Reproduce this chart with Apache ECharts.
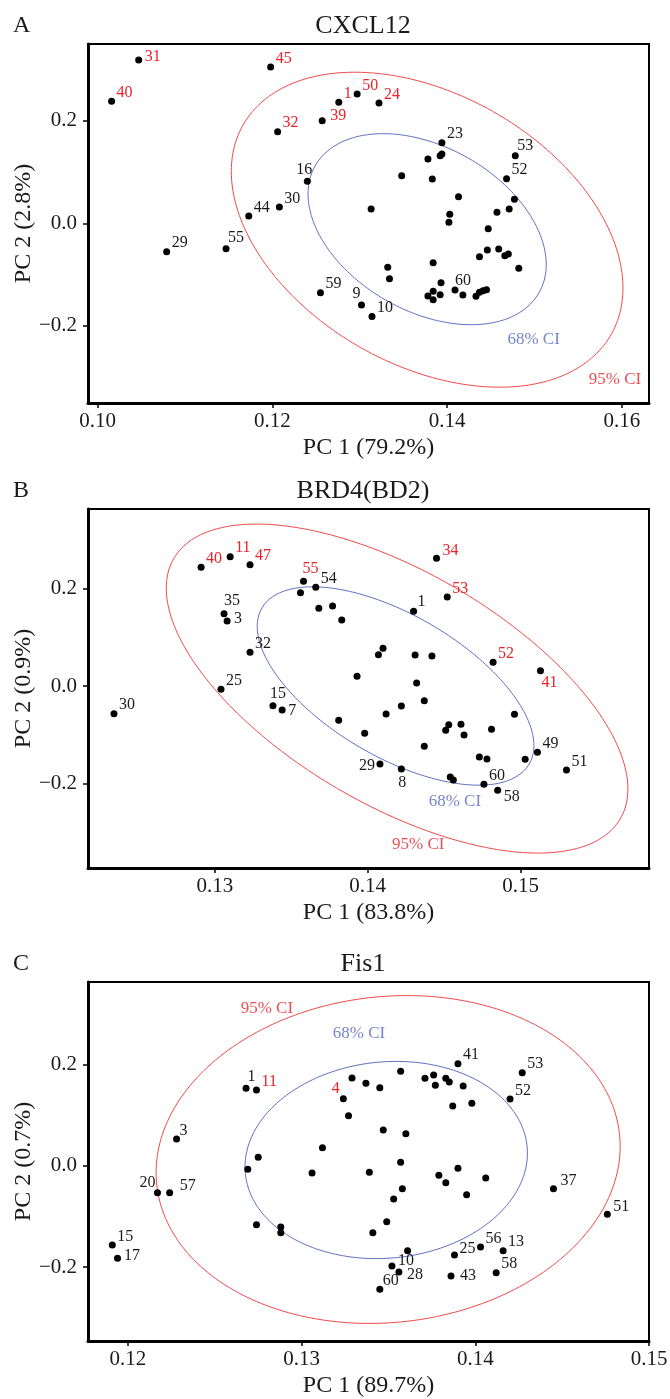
<!DOCTYPE html>
<html>
<head>
<meta charset="utf-8">
<script src="https://cdn.jsdelivr.net/npm/echarts@6.0.0/dist/echarts.min.js"></script>
<style>
html,body{margin:0;padding:0;background:#fff;}
#chart{width:670px;height:1399px;}
</style>
</head>
<body>
<div id="chart"></div>
<script>
// ---------------- DATA ----------------
const panelLetters = ['A', 'B', 'C'];
const panelTitles = ['CXCL12', 'BRD4(BD2)', 'Fis1'];
const xAxisNames = ['PC 1 (79.2%)', 'PC 1 (83.8%)', 'PC 1 (89.7%)'];
const yAxisNames = ['PC 2 (2.8%)', 'PC 2 (0.9%)', 'PC 2 (0.7%)'];

const xTicksA = [0.10, 0.12, 0.14, 0.16];
const xTicksB = [0.13, 0.14, 0.15];
const xTicksC = [0.12, 0.13, 0.14, 0.15];
const yTicks = [-0.2, 0.0, 0.2];

const xRangeA = [0.0989, 0.1631], yRangeA = [-0.3503, 0.3495];
const xRangeB = [0.1217, 0.1584], yRangeB = [-0.374, 0.3637];
const xRangeC = [0.1177, 0.1500], yRangeC = [-0.346, 0.3625];

// Panel A (CXCL12)
const labelsA = ['31','40','45','32','39','1','50','24','16','44','30','29','55','59','9','10','60','23','53','52',
  '','','','','','','','','','','','','','','','','','','','','','','','','','','','','','','',''];
const pc1A = [0.1047,0.1016,0.1198,0.1206,0.1257,0.1276,0.1297,0.1322,0.1240,0.1173,0.1208,0.1079,0.1147,0.1255,0.1302,0.1314,0.1409,0.1394,0.1478,0.1468,
  0.1392,0.1394,0.1378,0.1348,0.1383,0.1477,0.1413,0.1313,0.1457,0.1471,0.1403,0.1402,0.1447,0.1446,0.1459,0.1437,0.1466,0.1470,0.1482,0.1384,0.1332,0.1334,0.1393,0.1384,0.1392,0.1378,0.1384,0.1418,0.1433,0.1437,0.1441,0.1445];
const pc2A = [0.3183,0.2378,0.3047,0.1786,0.2000,0.2359,0.2520,0.2345,0.0819,0.0142,0.0318,-0.0554,-0.0495,-0.1353,-0.1593,-0.1817,-0.1300,0.1571,0.1318,0.0869,
  0.1318,0.1351,0.1253,0.0928,0.0864,0.0468,0.0519,0.0279,0.0214,0.0279,0.0175,0.0020,-0.0105,-0.0520,-0.0501,-0.0651,-0.0632,-0.0598,-0.0877,-0.0768,-0.0858,-0.1080,-0.1158,-0.1326,-0.1392,-0.1417,-0.1489,-0.1398,-0.1423,-0.1345,-0.1314,-0.1294];
const redA = ['31','40','45','32','39','1','50','24'];
const ci68A = [0.13771, -0.0115, 0.01363, 0.1862, -0.37];   // cx, cy, rx, ry, rho
const ci95A = [0.13771, -0.0125, 0.02241, 0.3070, -0.37];
const ciTextA = [[0.1499, -0.2275], [0.1592, -0.3055]];

// Panel B (BRD4(BD2))
const labelsB = ['40','11','47','55','34','53','52','41','54','35','3','32','25','1','15','7','49','29','8','60','58','51','30',
  '','','','','','','','','','','','','','','','','','','','','','','','','',''];
const pc1B = [0.1291,0.1310,0.1323,0.1358,0.1445,0.1452,0.1482,0.1513,0.1366,0.1306,0.1308,0.1323,0.1304,0.1430,0.1338,0.1344,0.1511,0.1408,0.1422,0.1476,0.1485,0.1530,0.1234,
  0.1356,0.1368,0.1377,0.1383,0.1410,0.1407,0.1431,0.1442,0.1393,0.1432,0.1422,0.1437,0.1412,0.1496,0.1381,0.1453,0.1451,0.1461,0.1463,0.1481,0.1398,0.1437,0.1503,0.1473,0.1478,0.1454,0.1456];
const pc2B = [0.2439,0.2657,0.2492,0.2153,0.2624,0.1829,0.0487,0.0314,0.2028,0.1486,0.1336,0.0692,-0.0068,0.1535,-0.0405,-0.0493,-0.1362,-0.1603,-0.1705,-0.2020,-0.2143,-0.1726,-0.0569,
  0.1917,0.1596,0.1644,0.1356,0.0775,0.0643,0.0637,0.0616,0.0199,0.0062,-0.0411,-0.0302,-0.0575,-0.0581,-0.0705,-0.0795,-0.0910,-0.0787,-0.1007,-0.0890,-0.0972,-0.1239,-0.1506,-0.1459,-0.1500,-0.1870,-0.1931];
const redB = ['40','11','47','55','34','53','52','41'];
const ci68B = [0.14182, 0.0000, 0.00905, 0.2038, -0.60];
const ci95B = [0.14192, -0.0053, 0.01510, 0.3380, -0.61];
const ciTextB = [[0.1457, -0.2377], [0.1433, -0.3267]];

// Panel C (Fis1)
const labelsC = ['11','4','1','3','41','53','52','37','51','20','57','15','17','25','56','13','10','28','60','43','58',
  '','','','','','','','','','','','','','','','','','','','','','','','','','','','','','','','',''];
const pc1C = [0.1274,0.1324,0.1268,0.1228,0.1390,0.1427,0.1420,0.1445,0.1476,0.1217,0.1224,0.1191,0.1194,0.1388,0.1403,0.1416,0.1352,0.1356,0.1345,0.1386,0.1412,
  0.1329,0.1337,0.1345,0.1357,0.1371,0.1376,0.1377,0.1383,0.1385,0.1393,0.1387,0.1398,0.1327,0.1347,0.1360,0.1312,0.1275,0.1269,0.1306,0.1339,0.1357,0.1390,0.1379,0.1383,0.1406,0.1358,0.1353,0.1395,0.1274,0.1288,0.1288,0.1349,0.1341,0.1361];
const pc2C = [0.1494,0.1322,0.1528,0.0527,0.2013,0.1835,0.1316,-0.0454,-0.0959,-0.0533,-0.0533,-0.1565,-0.1828,-0.1762,-0.1604,-0.1678,-0.1979,-0.2098,-0.2439,-0.2177,-0.2112,
  0.1731,0.1626,0.1539,0.1863,0.1725,0.1790,0.1587,0.1725,0.1652,0.1573,0.1178,0.1231,0.0987,0.0705,0.0632,0.0355,0.0166,-0.0071,-0.0144,-0.0130,0.0067,-0.0051,-0.0189,-0.0336,-0.0243,-0.0454,-0.0657,-0.0572,-0.1164,-0.1210,-0.1322,-0.1105,-0.1322,-0.1678];
const redC = ['11','4'];
const ci68C = [0.13487, 0.0112, 0.00813, 0.1946, 0.07];
const ci95C = [0.13498, 0.0122, 0.01336, 0.3235, 0.08];
const ciTextC = [[0.1333, 0.2613], [0.1280, 0.3106]];

// ---------------- STYLE ----------------
const FONT = '"Liberation Serif", "Times New Roman", serif';
const RED = '#ea2229';
const RED_LINE = '#f04a4a';
const BLUE = '#5468bd';
const BLUE_LINE = '#5c70c0';
const gridTops = [44, 509, 982];
const GRID_H = 359, GRID_L = 88, GRID_R = 21;
const DOT = 7;

// label placement: [align, dx, dy] relative to dot centre
const defaultPlace = ['left', 5, -8.5];
const placeA = {'31':['left',6,-3],'39':['left',8,-5],'16':['right',5,-11],'9':['right',-1,-11],'55':['left',2,-11],'53':['left',2,-10],'60':['left',0,-9]};
const placeB = {'55':['left',-1,-12],'35':['left',0,-13],'3':['left',7,-2],'41':['left',1,12],'15':['center',5,-12],'7':['left',6,1],'29':['right',-5,2],'8':['center',1,13.5],'58':['left',6,7],'1':['left',4,-9],'34':['left',6,-7.5]};
const placeC = {'1':['left',1.5,-11],'4':['right',-3.5,-10],'20':['right',-2,-10],'57':['left',10,-7],'17':['left',6.5,-2.5],'25':['left',5,-6],'10':['left',6,-5],'28':['left',8,3],'43':['left',9,0],'3':['left',3,-8],'60':['left',3,-8.5],'37':['left',7,-7.5],'51':['left',6,-7.5]};

function ellipse(p) {
  const [cx, cy, rx, ry, rho] = p;
  const phi = Math.acos(rho);
  const pts = [];
  const N = 240;
  for (let i = 0; i <= N; i++) {
    const t = 2 * Math.PI * i / N;
    pts.push([cx + rx * Math.cos(t), cy + ry * Math.cos(t + phi)]);
  }
  return pts;
}

function pointData(labels, xs, ys, reds, place) {
  return xs.map((x, i) => {
    const id = labels[i];
    const item = { value: [x, ys[i]] };
    if (id) {
      const pl = place[id] || defaultPlace;
      item.label = {
        show: true, formatter: id,
        position: [DOT / 2 + pl[1], DOT / 2 + pl[2]],
        align: pl[0], verticalAlign: 'middle',
        color: reds.includes(id) ? RED : '#1a1a1a',
        fontFamily: FONT, fontSize: 16
      };
    }
    return item;
  });
}

const panels = [
  {labels: labelsA, xs: pc1A, ys: pc2A, reds: redA, place: placeA, c68: ci68A, c95: ci95A, ct: ciTextA, xr: xRangeA, yr: yRangeA, xt: xTicksA},
  {labels: labelsB, xs: pc1B, ys: pc2B, reds: redB, place: placeB, c68: ci68B, c95: ci95B, ct: ciTextB, xr: xRangeB, yr: yRangeB, xt: xTicksB},
  {labels: labelsC, xs: pc1C, ys: pc2C, reds: redC, place: placeC, c68: ci68C, c95: ci95C, ct: ciTextC, xr: xRangeC, yr: yRangeC, xt: xTicksC}
];

const grid = [], xAxis = [], yAxis = [], series = [], graphic = [];
panels.forEach((p, i) => {
  grid.push({left: GRID_L, right: GRID_R, top: gridTops[i], height: GRID_H, show: true, borderColor: '#000', borderWidth: 2,
    backgroundColor: 'transparent', containLabel: false, outerBoundsMode: 'none'});
  xAxis.push({
    type: 'value', gridIndex: i, min: p.xr[0], max: p.xr[1],
    name: xAxisNames[i], nameLocation: 'middle', nameGap: 33, nameMoveOverlap: false,
    nameTextStyle: {fontFamily: FONT, fontSize: 24, color: '#1a1a1a'},
    axisLine: {show: true, onZero: false, lineStyle: {color: '#000', width: 3}},
    axisTick: {show: true, length: 5, customValues: p.xt, lineStyle: {color: '#000', width: 1.5}},
    axisLabel: {customValues: p.xt, margin: 8, fontFamily: FONT, fontSize: 21, color: '#1a1a1a',
      formatter: v => v.toFixed(2)},
    splitLine: {show: false}
  });
  yAxis.push({
    type: 'value', gridIndex: i, min: p.yr[0], max: p.yr[1],
    name: yAxisNames[i], nameLocation: 'middle', nameGap: 52, nameRotate: 90, nameMoveOverlap: false,
    nameTextStyle: {fontFamily: FONT, fontSize: 24, color: '#1a1a1a'},
    axisLine: {show: true, onZero: false, lineStyle: {color: '#000', width: 3}},
    axisTick: {show: true, length: 5, customValues: yTicks, lineStyle: {color: '#000', width: 1.5}},
    axisLabel: {customValues: yTicks, margin: 11, fontFamily: FONT, fontSize: 21, color: '#1a1a1a',
      formatter: v => (v < 0 ? '\u2212' : '') + Math.abs(v).toFixed(1)},
    splitLine: {show: false}
  });
  series.push({
    type: 'line', xAxisIndex: i, yAxisIndex: i, data: ellipse(p.c95), symbol: 'none', silent: true,
    lineStyle: {color: RED_LINE, width: 1}, z: 1
  });
  series.push({
    type: 'line', xAxisIndex: i, yAxisIndex: i, data: ellipse(p.c68), symbol: 'none', silent: true,
    lineStyle: {color: BLUE_LINE, width: 1}, z: 1
  });
  series.push({
    type: 'scatter', xAxisIndex: i, yAxisIndex: i, symbolSize: 0, silent: true, z: 2,
    data: [
      {value: p.ct[0], label: {show: true, position: 'inside', formatter: '68% CI', color: BLUE, fontFamily: FONT, fontSize: 17}},
      {value: p.ct[1], label: {show: true, position: 'inside', formatter: '95% CI', color: RED, fontFamily: FONT, fontSize: 17}}
    ]
  });
  series.push({
    type: 'scatter', xAxisIndex: i, yAxisIndex: i, symbol: 'circle', symbolSize: DOT,
    itemStyle: {color: '#000', opacity: 1}, z: 3,
    data: pointData(p.labels, p.xs, p.ys, p.reds, p.place),
    labelLayout: {hideOverlap: false}
  });
  const titleY = gridTops[i] - 18;
  graphic.push({type: 'text', x: 363, y: titleY, style: {text: panelTitles[i], align: 'center', verticalAlign: 'middle', font: '26px ' + FONT, fill: '#1a1a1a'}});
  graphic.push({type: 'text', x: 13, y: titleY, style: {text: panelLetters[i], align: 'left', verticalAlign: 'middle', font: '24px ' + FONT, fill: '#1a1a1a'}});
});

const chart = echarts.init(document.getElementById('chart'), null, {renderer: 'canvas'});
chart.setOption({
  animation: false,
  backgroundColor: '#fff',
  grid, xAxis, yAxis, series, graphic
});
</script>
</body>
</html>
